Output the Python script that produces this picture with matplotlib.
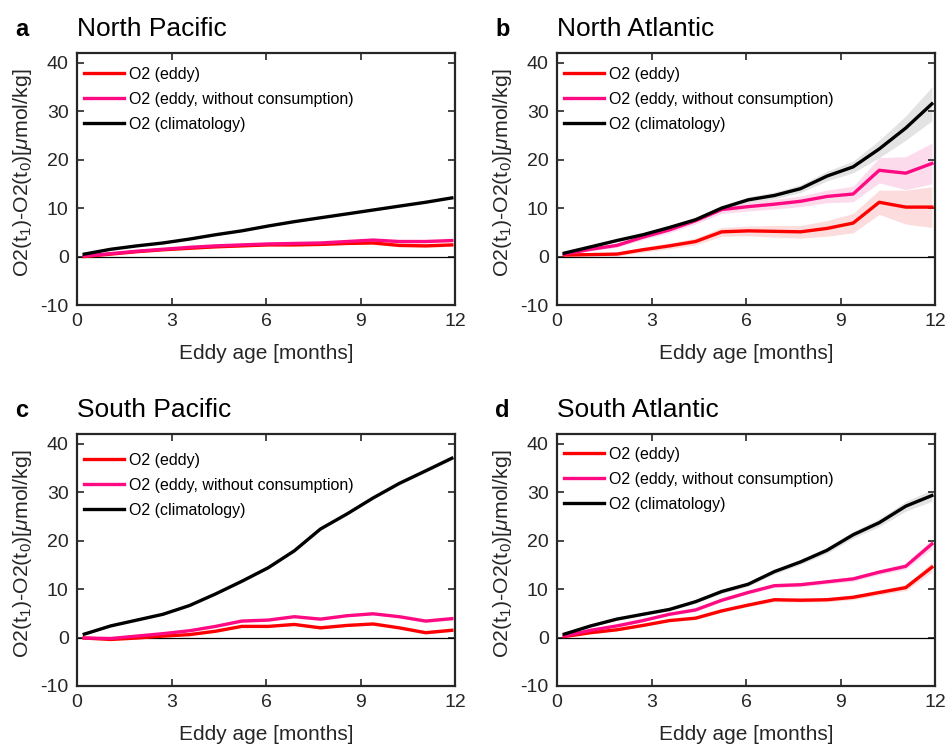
import matplotlib
matplotlib.use('Agg')
import matplotlib.pyplot as plt
import numpy as np

plt.rcParams['font.family'] = ['Liberation Sans', 'DejaVu Sans']
plt.rcParams['mathtext.fontset'] = 'custom'
plt.rcParams['mathtext.rm'] = 'Liberation Sans'
plt.rcParams['mathtext.it'] = 'Liberation Sans:italic'
plt.rcParams['axes.unicode_minus'] = False

# eddy age in months (sampled every 25 days starting at day 7)
months = [0.23, 1.07, 1.9, 2.73, 3.57, 4.4, 5.23, 6.07, 6.9, 7.73, 8.57, 9.4, 10.23, 11.07, 11.9]

# North Pacific
np_eddy = [0.0, 0.5, 1.0, 1.4, 1.7, 2.0, 2.2, 2.4, 2.4, 2.5, 2.7, 2.8, 2.3, 2.2, 2.4]
np_nocons = [0.1, 0.6, 1.1, 1.5, 1.9, 2.2, 2.4, 2.6, 2.7, 2.8, 3.1, 3.4, 3.1, 3.1, 3.3]
np_clim = [0.5, 1.5, 2.2, 2.8, 3.6, 4.5, 5.3, 6.3, 7.2, 8.0, 8.8, 9.6, 10.4, 11.2, 12.1]
np_eddy_err = [0.1, 0.1, 0.1, 0.1, 0.1, 0.2, 0.2, 0.2, 0.2, 0.2, 0.2, 0.3, 0.3, 0.3, 0.3]
np_nocons_err = [0.1, 0.1, 0.1, 0.1, 0.1, 0.2, 0.2, 0.2, 0.2, 0.2, 0.2, 0.3, 0.3, 0.3, 0.3]
np_clim_err = [0.1, 0.1, 0.1, 0.1, 0.1, 0.1, 0.1, 0.1, 0.1, 0.1, 0.1, 0.1, 0.1, 0.1, 0.1]

# North Atlantic
na_eddy = [0.3, 0.4, 0.5, 1.4, 2.2, 3.1, 5.1, 5.3, 5.2, 5.1, 5.8, 6.9, 11.2, 10.2, 10.2]
na_nocons = [0.5, 1.5, 2.3, 4.0, 5.5, 7.4, 9.7, 10.3, 10.8, 11.4, 12.4, 12.9, 17.8, 17.2, 19.2]
na_clim = [0.7, 2.0, 3.3, 4.5, 6.0, 7.6, 10.0, 11.7, 12.6, 14.0, 16.6, 18.5, 22.2, 26.5, 31.5]
na_eddy_err = [0.2, 0.3, 0.4, 0.5, 0.6, 0.7, 0.9, 1.0, 1.2, 1.3, 1.6, 2.0, 2.5, 3.5, 4.2]
na_nocons_err = [0.2, 0.3, 0.4, 0.5, 0.6, 0.7, 0.8, 0.9, 1.0, 1.1, 1.3, 1.6, 2.6, 3.4, 4.2]
na_clim_err = [0.1, 0.2, 0.2, 0.3, 0.3, 0.4, 0.5, 0.6, 0.7, 0.8, 1.0, 1.2, 1.8, 2.5, 3.5]

# South Pacific
sp_eddy = [-0.1, -0.4, -0.1, 0.3, 0.6, 1.3, 2.3, 2.3, 2.7, 2.0, 2.5, 2.8, 2.0, 1.0, 1.5]
sp_nocons = [-0.1, -0.2, 0.3, 0.8, 1.4, 2.3, 3.4, 3.6, 4.3, 3.8, 4.5, 4.9, 4.3, 3.4, 3.9]
sp_clim = [0.7, 2.4, 3.6, 4.8, 6.6, 9.0, 11.6, 14.4, 17.9, 22.4, 25.5, 28.8, 31.8, 34.4, 37.0]
sp_eddy_err = [0.1, 0.1, 0.1, 0.1, 0.1, 0.1, 0.2, 0.2, 0.2, 0.2, 0.2, 0.2, 0.2, 0.3, 0.3]
sp_nocons_err = [0.1, 0.1, 0.1, 0.1, 0.1, 0.1, 0.2, 0.2, 0.2, 0.2, 0.2, 0.2, 0.2, 0.3, 0.3]
sp_clim_err = [0.1, 0.1, 0.1, 0.1, 0.1, 0.1, 0.2, 0.2, 0.2, 0.2, 0.2, 0.2, 0.3, 0.3, 0.4]

# South Atlantic
sa_eddy = [0.2, 1.0, 1.6, 2.5, 3.5, 4.0, 5.5, 6.7, 7.8, 7.7, 7.8, 8.3, 9.3, 10.3, 14.5]
sa_nocons = [0.3, 1.5, 2.4, 3.5, 4.8, 5.7, 7.7, 9.3, 10.7, 10.9, 11.5, 12.1, 13.5, 14.7, 19.3]
sa_clim = [0.7, 2.4, 3.8, 4.8, 5.8, 7.4, 9.5, 11.0, 13.6, 15.6, 18.0, 21.2, 23.7, 27.1, 29.3]
sa_eddy_err = [0.1, 0.1, 0.2, 0.2, 0.2, 0.3, 0.3, 0.3, 0.4, 0.4, 0.4, 0.5, 0.5, 0.6, 1.0]
sa_nocons_err = [0.1, 0.1, 0.2, 0.2, 0.2, 0.3, 0.3, 0.3, 0.4, 0.4, 0.4, 0.5, 0.5, 0.6, 1.0]
sa_clim_err = [0.1, 0.2, 0.2, 0.2, 0.3, 0.3, 0.4, 0.4, 0.5, 0.5, 0.6, 0.7, 0.8, 1.0, 1.2]

letters = ['a', 'b', 'c', 'd']
titles = ['North Pacific', 'North Atlantic', 'South Pacific', 'South Atlantic']
labels = ['O2 (eddy)', 'O2 (eddy, without consumption)', 'O2 (climatology)']

panels = [
    (np_eddy, np_nocons, np_clim, np_eddy_err, np_nocons_err, np_clim_err),
    (na_eddy, na_nocons, na_clim, na_eddy_err, na_nocons_err, na_clim_err),
    (sp_eddy, sp_nocons, sp_clim, sp_eddy_err, sp_nocons_err, sp_clim_err),
    (sa_eddy, sa_nocons, sa_clim, sa_eddy_err, sa_nocons_err, sa_clim_err),
]

red = '#ff0000'
pink = '#ff0a82'
black = '#000000'
band_colors = ['#fcdcdc', '#fcdcec', '#e3e3e3']
edge = '#262626'

W, H = 948, 747
fig = plt.figure(figsize=(W / 100, H / 100), dpi=100)

# axes boxes in pixels: left, top, right, bottom
boxes = [(77, 53, 455, 305), (557, 53, 935, 305), (77, 434, 455, 686), (557, 434, 935, 686)]
# legend top offset in pixels below the axes top
leg_off = [14, 14, 19, 13]

x = np.array(months)
for i, (box, data) in enumerate(zip(boxes, panels)):
    l, t, r, b = box
    aw, ah = r - l, b - t
    ax = fig.add_axes([l / W, 1 - b / H, aw / W, ah / H])
    lines = data[:3]
    errs = data[3:]
    for k, (yv, ev) in enumerate(zip(lines, errs)):
        yv = np.array(yv)
        ev = np.array(ev)
        ax.fill_between(x, yv - ev, yv + ev, color=band_colors[k], lw=0, zorder=1)
    ax.axhline(0, color='k', lw=0.9, zorder=2)
    for k, (yv, col) in enumerate(zip(lines, [red, pink, black])):
        ax.plot(x, yv, color=col, lw=2.4, label=labels[k], zorder=3 + k,
                solid_joinstyle='round')

    ax.set_xlim(0, 12)
    ax.set_ylim(-10, 42)
    ax.set_xticks([0, 3, 6, 9, 12])
    ax.set_yticks([-10, 0, 10, 20, 30, 40])
    ax.tick_params(direction='in', top=True, right=True, length=5, width=1.2,
                   labelsize=14, colors=edge, pad=6)
    for s in ax.spines.values():
        s.set_linewidth(1.6)
        s.set_color(edge)
    ax.set_xlabel('Eddy age [months]', fontsize=15, color=edge)
    ax.xaxis.set_label_coords(0.5, -(355 - 305 - 11) / ah)
    ax.set_ylabel(r'O2(t$_1$)-O2(t$_0$)[$\mu$mol/kg]', fontsize=15.3, color=edge)
    ax.yaxis.set_label_coords(-43 / aw, 1 - 120 / ah)

    leg = ax.legend(loc='upper left', frameon=False, fontsize=11.5, handlelength=2.5,
                    handletextpad=0.3, labelspacing=0.62, borderaxespad=0, borderpad=0,
                    bbox_to_anchor=(7 / aw, 1 - leg_off[i] / ah))
    for txt in leg.get_texts():
        txt.set_color('black')

    fig.text(l / W, 1 - (t - 24) / H, titles[i], fontsize=19, va='center', ha='left')
    fig.text((l - 62) / W, 1 - (t - 24) / H, letters[i], fontsize=17, fontweight='bold',
             va='center', ha='left')

fig.savefig('out.png', dpi=100)
